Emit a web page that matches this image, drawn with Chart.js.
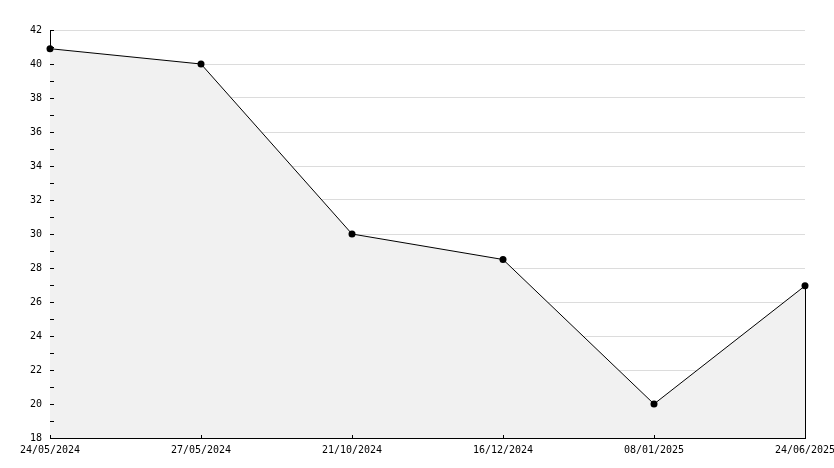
<!DOCTYPE html>
<html>
<head>
<meta charset="utf-8">
<script src="https://cdn.jsdelivr.net/npm/chart.js@4"></script>
<style>
    html, body { margin: 0; padding: 0; background: #ffffff; }
    canvas { display: block; }
</style>
</head>
<body>
<canvas id="lineChart" width="834" height="468"></canvas>
<script>
// Chart data
const dates = ['24/05/2024', '27/05/2024', '21/10/2024', '16/12/2024', '08/01/2025', '24/06/2025'];
const values = [40.9, 40, 30, 28.5, 20, 26.95];
const yMin = 18;
const yMax = 42;

const FONT = { family: 'DejaVu Sans Mono', size: 10 };

// Small inward tick marks and the right edge of the filled area
const innerTicks = {
    id: 'innerTicks',
    afterDatasetsDraw(chart) {
        const { ctx, chartArea, scales } = chart;
        const x = scales.x, y = scales.y;
        ctx.save();
        ctx.strokeStyle = '#000000';
        ctx.lineWidth = 1;
        ctx.beginPath();
        for (let v = yMin; v <= yMax; v++) {
            const py = Math.round(y.getPixelForValue(v)) + 0.5;
            ctx.moveTo(chartArea.left, py);
            ctx.lineTo(chartArea.left + 4, py);
        }
        dates.forEach((d, i) => {
            const px = Math.round(x.getPixelForValue(i)) + 0.5;
            ctx.moveTo(px, chartArea.bottom);
            ctx.lineTo(px, chartArea.bottom - 3);
        });
        // closing edge of the fill under the last point
        const last = values.length - 1;
        const lx = Math.round(x.getPixelForValue(last)) + 0.5;
        ctx.moveTo(lx, y.getPixelForValue(values[last]));
        ctx.lineTo(lx, chartArea.bottom);
        ctx.stroke();
        ctx.restore();
    },
};

document.addEventListener('DOMContentLoaded', function () {
    const ctx = document.getElementById('lineChart').getContext('2d');
    new Chart(ctx, {
        type: 'line',
        data: {
            labels: dates,
            datasets: [{
                data: values,
                borderColor: '#000000',
                borderWidth: 1,
                backgroundColor: '#f1f1f1',
                fill: 'start',
                tension: 0,
                pointRadius: 3.5,
                pointHoverRadius: 3.5,
                pointBackgroundColor: '#000000',
                pointBorderColor: '#000000',
                pointBorderWidth: 0,
                clip: false,
            }],
        },
        options: {
            responsive: false,
            animation: false,
            layout: {
                padding: { top: 30, right: 29, left: 0, bottom: 0 },
            },
            scales: {
                x: {
                    offset: false,
                    grid: { display: false, drawTicks: false },
                    border: { color: '#000000', width: 1 },
                    ticks: {
                        color: '#000000',
                        font: FONT,
                        maxRotation: 0,
                        autoSkip: false,
                        padding: 6,
                    },
                    afterFit(scale) {
                        scale.height = 30;
                        scale.paddingLeft = 0;
                        scale.paddingRight = 0;
                    },
                },
                y: {
                    min: yMin,
                    max: yMax,
                    grid: {
                        drawTicks: false,
                        color: c => (c.tick && c.tick.value % 2 === 0) ? '#dcdcdc' : 'rgba(0,0,0,0)',
                    },
                    border: { color: '#000000', width: 1 },
                    ticks: {
                        stepSize: 1,
                        color: '#000000',
                        font: FONT,
                        padding: 8,
                        callback: v => (v % 2 === 0 ? String(v) : ''),
                    },
                    afterFit(scale) { scale.width = 50; },
                },
            },
            plugins: {
                legend: { display: false },
                tooltip: { enabled: false },
            },
        },
        plugins: [innerTicks],
    });
});
</script>
</body>
</html>
